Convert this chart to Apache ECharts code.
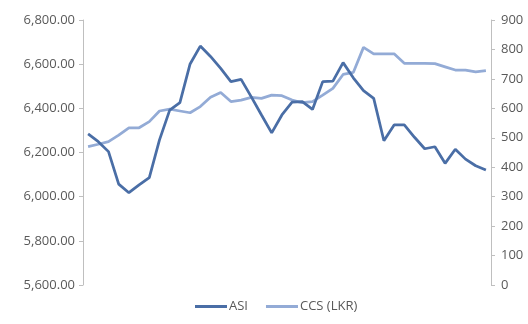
<!DOCTYPE html>
<html>
<head>
<meta charset="utf-8">
<script src="https://cdn.jsdelivr.net/npm/echarts@6/dist/echarts.min.js"></script>
<style>
  html, body { margin: 0; padding: 0; background: #ffffff; }
  #chart { width: 528px; height: 324px; }
</style>
</head>
<body>
<div id="chart"></div>
<script>
// Period index (no axis labels are drawn for the periods)
const periods = Array.from({ length: 40 }, (_, i) => 'P' + (i + 1));

// All Share Index (left axis)
const asiValues = [
  6284, 6249, 6204, 6057, 6018, 6053, 6086, 6257, 6392, 6426,
  6601, 6682, 6635, 6581, 6521, 6531, 6452, 6370, 6289, 6370,
  6428, 6430, 6395, 6521, 6523, 6607, 6538, 6480, 6445, 6253,
  6325, 6325, 6269, 6217, 6226, 6151, 6215, 6170, 6140, 6121
];

// CCS price in LKR (right axis)
const ccsValues = [
  470, 478, 487, 509, 534, 534, 555, 591, 597, 591,
  585, 606, 638, 654, 623, 628, 637, 634, 645, 643,
  628, 619, 623, 645, 668, 715, 722, 807, 785, 785,
  785, 753, 753, 753, 752, 741, 730, 730, 724, 728
];

const seriesNames = ['ASI', 'CCS (LKR)'];
const leftTicks = { min: 5600, max: 6800, step: 200 };
const rightTicks = { min: 0, max: 900, step: 100 };

const textColor = '#595959';
const axisColor = '#bfbfbf';
const font = '"Open Sans", "DejaVu Sans", sans-serif';

const chart = echarts.init(document.getElementById('chart'), null, { renderer: 'canvas' });

chart.setOption({
  animation: false,
  backgroundColor: '#ffffff',
  grid: { left: 83, right: 37, top: 20, bottom: 39, containLabel: false },
  legend: {
    bottom: 6,
    left: 190,
    itemWidth: 32,
    itemHeight: 3,
    itemGap: 18,
    icon: 'rect',
    textStyle: { color: textColor, fontFamily: font, fontSize: 13, padding: [0, 0, 0, -3] },
    data: seriesNames
  },
  xAxis: {
    type: 'category',
    data: periods,
    boundaryGap: true,
    axisLine: { show: false },
    axisTick: { show: false },
    axisLabel: { show: false },
    splitLine: { show: false }
  },
  yAxis: [
    {
      type: 'value',
      position: 'left',
      min: leftTicks.min,
      max: leftTicks.max,
      interval: leftTicks.step,
      axisLine: { show: true, lineStyle: { color: axisColor, width: 1 } },
      axisTick: { show: true, length: 4, lineStyle: { color: axisColor } },
      splitLine: { show: false },
      axisLabel: {
        color: textColor,
        fontFamily: font,
        fontSize: 13,
        margin: 8,
        formatter: v => v.toLocaleString('en-US', { minimumFractionDigits: 2, maximumFractionDigits: 2 })
      }
    },
    {
      type: 'value',
      position: 'right',
      min: rightTicks.min,
      max: rightTicks.max,
      interval: rightTicks.step,
      axisLine: { show: true, lineStyle: { color: axisColor, width: 1 } },
      axisTick: { show: true, length: 4, lineStyle: { color: axisColor } },
      splitLine: { show: false },
      axisLabel: {
        color: textColor,
        fontFamily: font,
        fontSize: 13,
        margin: 10
      }
    }
  ],
  series: [
    {
      name: seriesNames[0],
      type: 'line',
      yAxisIndex: 0,
      data: asiValues,
      symbol: 'none',
      z: 3,
      lineStyle: { color: '#4a6ea6', width: 2.75 },
      itemStyle: { color: '#4a6ea6' }
    },
    {
      name: seriesNames[1],
      type: 'line',
      yAxisIndex: 1,
      data: ccsValues,
      symbol: 'none',
      z: 2,
      lineStyle: { color: '#93abd6', width: 2.75 },
      itemStyle: { color: '#93abd6' }
    }
  ]
});
</script>
</body>
</html>
